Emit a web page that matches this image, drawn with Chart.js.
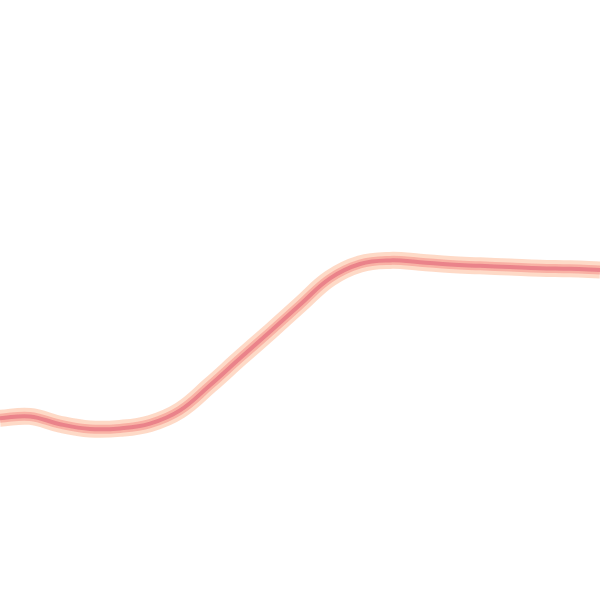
<!DOCTYPE html>
<html><head><meta charset="utf-8">
<script src="https://cdn.jsdelivr.net/npm/chart.js@4"></script>
<style>html,body{margin:0;padding:0;background:#fff}canvas{display:block}</style>
</head><body>
<canvas id="c" width="600" height="600"></canvas>
<script>
const categories = [0,1,2,3,4,5,6,7,8,9,10,11,12,13,14,15,16,17,18,19,20];
const values = [30.3,30.6,29.3,28.5,28.6,29.4,31.6,35.8,40.3,44.7,49.2,53.6,56.0,56.6,56.3,55.9,55.7,55.5,55.3,55.2,55.0];

new Chart(document.getElementById('c'), {
  type: 'line',
  data: {
    labels: categories,
    datasets: [
      { order: 3, data: values, borderColor: 'rgba(253,205,180,0.75)', borderWidth: 17, pointRadius: 0, tension: 0.4, fill: false },
      { order: 2, data: values, borderColor: 'rgba(246,160,150,0.7)', borderWidth: 9, pointRadius: 0, tension: 0.4, fill: false },
      { order: 1, data: values, borderColor: 'rgba(228,115,130,0.75)', borderWidth: 4, pointRadius: 0, tension: 0.4, fill: false }
    ]
  },
  options: {
    responsive: false, animation: false,
    layout: { padding: 0 },
    plugins: { legend: { display: false }, tooltip: { enabled: false } },
    scales: {
      x: { type: 'linear', display: false, min: 0, max: 20, offset: false },
      y: { display: false, min: 0, max: 100 }
    }
  }
});
</script>
</body></html>
